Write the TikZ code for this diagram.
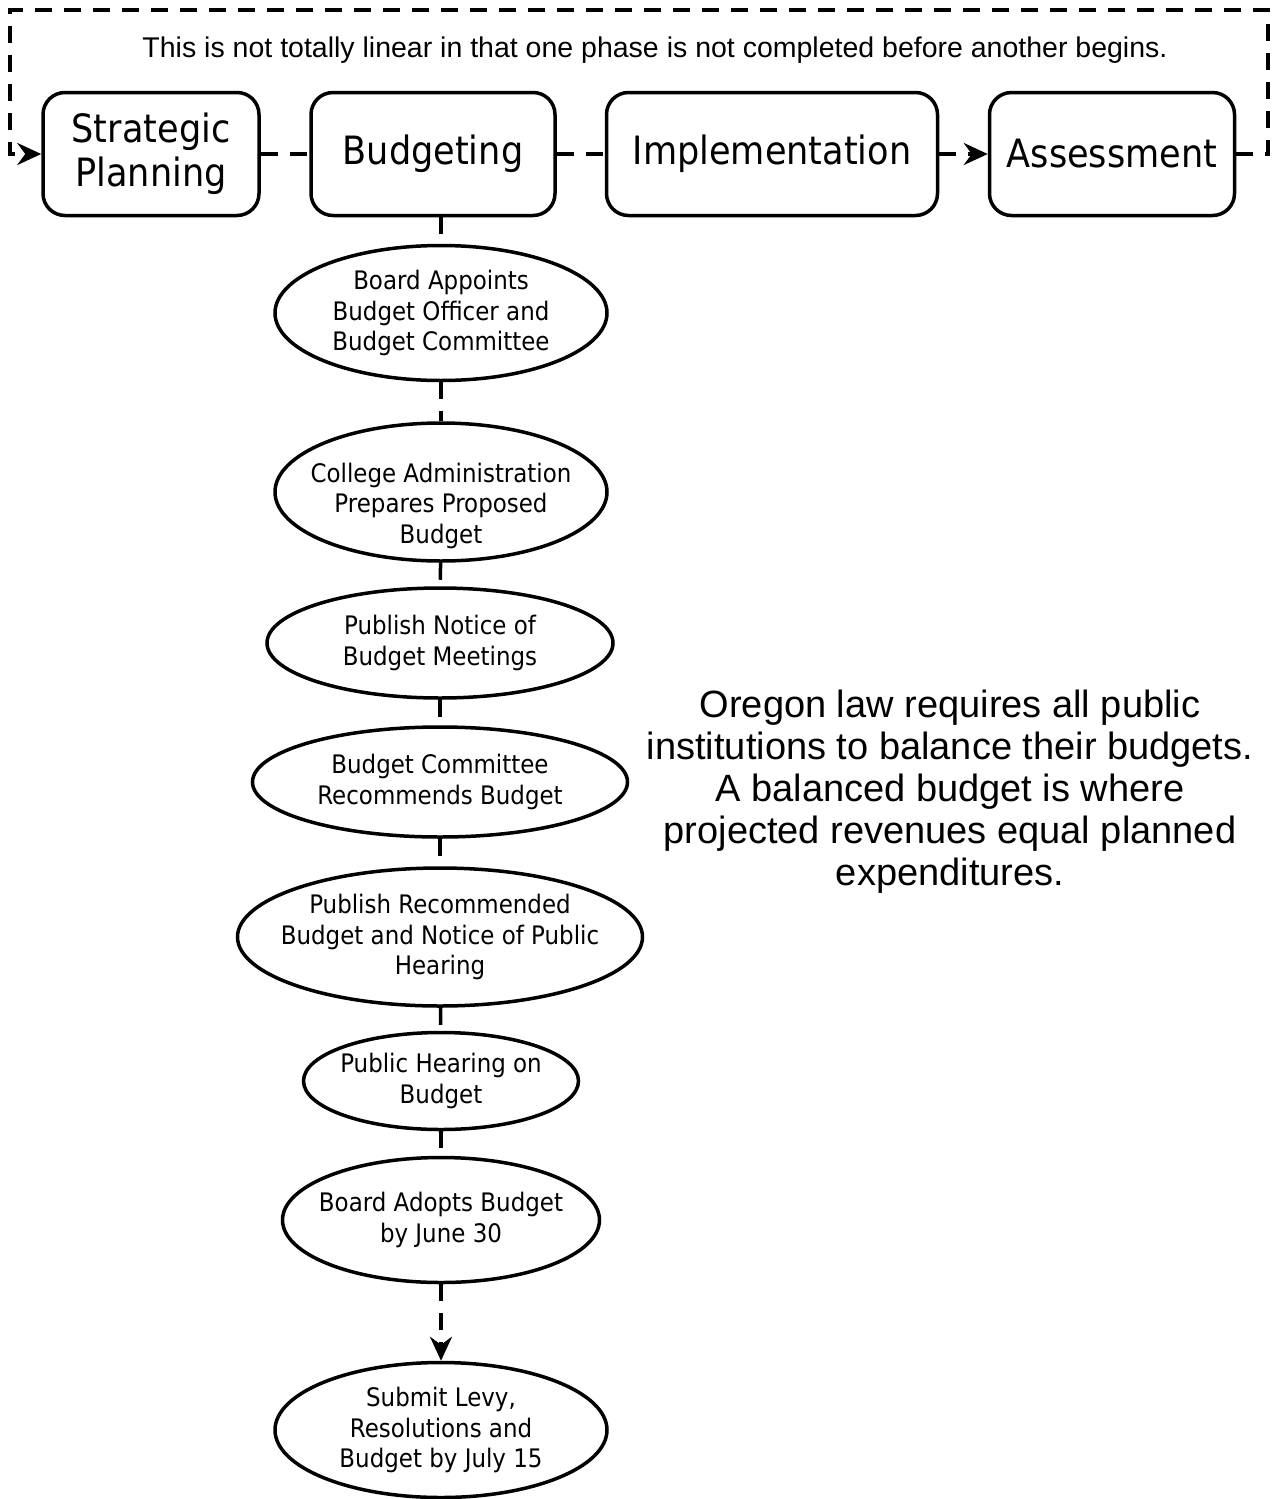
\documentclass[tikz,border=0pt]{standalone}
\usepackage{fontspec}
\setmainfont{Liberation Sans}
\newfontfamily\stepfont[FakeStretch=0.9]{DejaVu Sans}
\usetikzlibrary{arrows.meta,shapes.geometric}

\tikzstyle{phasebox} = [draw=black, line width=3.5pt, rectangle, rounded corners=22pt,
    minimum height=123pt, align=center, font=\stepfont\fontsize{39}{44}\selectfont]
\tikzstyle{stepoval} = [draw=black, line width=3.5pt, ellipse, inner xsep=-120pt,
    inner ysep=-60pt, align=center, font=\stepfont\fontsize{25.5}{30.5}\selectfont]
\tikzstyle{link} = [line width=3.5pt, dash pattern=on 17pt off 12pt]
\tikzstyle{linkarrow} = [-{Stealth[length=24pt,width=22pt,inset=8pt]}]

\begin{document}
\begin{tikzpicture}[x=1pt,y=-1pt]
\useasboundingbox (0,0) rectangle (1275,1499);

% phases
\node [phasebox, minimum width=216pt] (plan) at (151,154) {Strategic\\Planning};
\node [phasebox, minimum width=244pt] (budget) at (433,154) {Budgeting};
\node [phasebox, minimum width=331pt] (impl) at (772,154) {Implementation};
\node [phasebox, minimum width=245pt] (assess) at (1112,154) {Assessment};

\node [font=\fontsize{28.5}{32}\selectfont] (note) at (655,50)
  {This is not totally linear in that one phase is not completed before another begins.};

% budget steps
\node [stepoval, minimum width=332pt, minimum height=135pt] (s1) at (441,313)
  {Board Appoints\\Budget Officer and\\Budget Committee};
\node [stepoval, minimum width=332pt, minimum height=138pt] (s2) at (441,492)
  {\rule{0pt}{47pt}College Administration\\Prepares Proposed\\Budget};
\node [stepoval, minimum width=346pt, minimum height=110pt] (s3) at (440,643)
  {Publish Notice of\\Budget Meetings};
\node [stepoval, minimum width=375pt, minimum height=110pt] (s4) at (440,782)
  {Budget Committee\\Recommends Budget};
\node [stepoval, minimum width=405pt, minimum height=138pt] (s5) at (440,937)
  {Publish Recommended\\Budget and Notice of Public\\Hearing};
\node [stepoval, minimum width=275pt, minimum height=97pt] (s6) at (441,1081)
  {Public Hearing on\\Budget};
\node [stepoval, minimum width=317pt, minimum height=125pt] (s7) at (441,1220)
  {Board Adopts Budget\\by June 30};
\node [stepoval, minimum width=332pt, minimum height=135pt] (s8) at (441,1430)
  {Submit Levy,\\Resolutions and\\Budget by July 15};

\node [align=center, font=\fontsize{38}{42}\selectfont] (law) at (950,792)
  {Oregon law requires all public\\institutions to balance their budgets.\\A balanced budget is where\\projected revenues equal planned\\expenditures.};

% connectors
\draw [link] (plan) -- (budget);
\draw [link] (budget) -- (impl);
\draw [link, linkarrow] (impl) -- (assess);

\coordinate (loopR) at (1268,10);
\coordinate (loopL) at (10,10);
\draw [link, linkarrow] (assess.east) -| (loopR) -- (loopL) |- (plan.west);

\draw [link] (s1.north |- budget.south) -- (s1.north);
\foreach \a/\b in {s1/s2, s2/s3, s3/s4, s4/s5, s5/s6, s6/s7}
  \draw [link] (\a) -- (\b);
\draw [link, linkarrow] (s7) -- (s8);

\end{tikzpicture}
\end{document}
